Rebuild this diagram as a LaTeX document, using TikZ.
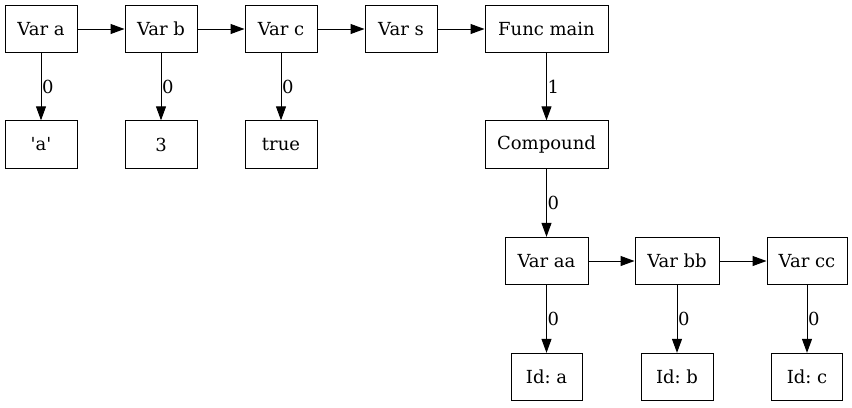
\documentclass[tikz,border=0pt]{standalone}
\usepackage{fontspec}
\setmainfont{DejaVu Serif}[Ligatures=TeXOff]
\usetikzlibrary{arrows.meta}
\frenchspacing
\begin{document}
\begin{tikzpicture}[x=0.75pt,y=-0.75pt,
  box/.style={draw, line width=0.75pt, minimum height=35.5pt, inner sep=0pt, font=\fontsize{13.5}{16}\selectfont},
  w54/.style={minimum width=54pt},
  wide/.style={minimum width=92.25pt},
  edge/.style={line width=0.75pt, -{Triangle[length=10.5pt,width=7.5pt]}},
  lab/.style={anchor=west, inner sep=0.5pt, font=\fontsize{13.5}{16}\selectfont}]
\useasboundingbox (0,0) rectangle (852,407);
\node[box,w54] (va) at (41,29) {Var a};
\node[box,w54] (vb) at (161,29) {Var b};
\node[box,w54] (vc) at (281,29) {Var c};
\node[box,w54] (vs) at (401,29) {Var s};
\node[box,wide] (fm) at (546.5,29) {Func main};
\node[box,w54] (la) at (41,144.5) {'a'};
\node[box,w54] (l3) at (161,144.5) {3};
\node[box,w54] (lt) at (281,144.5) {true};
\node[box,wide] (cp) at (546.5,144.5) {Compound};
\node[box,minimum width=62.25pt] (vaa) at (546.5,261) {Var aa};
\node[box,minimum width=63pt] (vbb) at (677,261) {Var bb};
\node[box,minimum width=60pt] (vcc) at (807,261) {Var cc};
\node[box,minimum width=53.25pt] (ia) at (546.5,377) {Id: a};
\node[box,minimum width=54pt] (ib) at (677,377) {Id: b};
\node[box,minimum width=53.25pt] (ic) at (807,377) {Id: c};
\draw[edge] (va) -- (vb);
\draw[edge] (vb) -- (vc);
\draw[edge] (vc) -- (vs);
\draw[edge] (vs) -- (fm);
\draw[edge] (va) -- node[lab] {0} (la);
\draw[edge] (vb) -- node[lab] {0} (l3);
\draw[edge] (vc) -- node[lab] {0} (lt);
\draw[edge] (fm) -- node[lab] {1} (cp);
\draw[edge] (cp) -- node[lab] {0} (vaa);
\draw[edge] (vaa) -- (vbb);
\draw[edge] (vbb) -- (vcc);
\draw[edge] (vaa) -- node[lab] {0} (ia);
\draw[edge] (vbb) -- node[lab] {0} (ib);
\draw[edge] (vcc) -- node[lab] {0} (ic);
\end{tikzpicture}
\end{document}
